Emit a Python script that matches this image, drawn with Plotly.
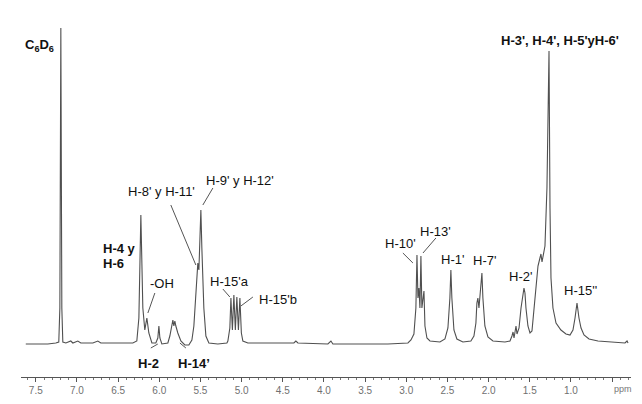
import plotly.graph_objects as go

# espectro 1H RMN (C6D6)
ppm = [7.622, 7.354, 7.257, 7.221, 7.208, 7.196, 7.184, 7.172, 7.135, 7.075,
       7.050, 6.990, 6.953, 6.807, 6.747, 6.710, 6.504, 6.321, 6.273, 6.248,
       6.224, 6.200, 6.176, 6.151, 6.127, 6.090, 6.042, 6.018, 6.005, 5.993,
       5.969, 5.896, 5.872, 5.847, 5.835, 5.823, 5.811, 5.799, 5.775, 5.738,
       5.690, 5.641, 5.604, 5.580, 5.556, 5.532, 5.519, 5.507, 5.495, 5.483,
       5.459, 5.434, 5.398, 5.289, 5.179, 5.167, 5.143, 5.130, 5.112, 5.094,
       5.076, 5.058, 5.039, 5.021, 5.003, 4.985, 4.924, 4.681, 4.365, 4.341,
       4.316, 3.952, 3.915, 3.891, 3.587, 3.223, 2.980, 2.943, 2.907, 2.883,
       2.870, 2.858, 2.846, 2.834, 2.822, 2.810, 2.785, 2.773, 2.749, 2.712,
       2.591, 2.530, 2.494, 2.470, 2.458, 2.446, 2.421, 2.385, 2.312, 2.215,
       2.178, 2.154, 2.142, 2.130, 2.117, 2.105, 2.081, 2.069, 2.045, 2.008,
       1.947, 1.801, 1.740, 1.716, 1.703, 1.691, 1.679, 1.667, 1.655, 1.630,
       1.606, 1.582, 1.570, 1.558, 1.546, 1.522, 1.497, 1.473, 1.437, 1.400,
       1.376, 1.364, 1.351, 1.339, 1.315, 1.291, 1.278, 1.266, 1.254, 1.242,
       1.218, 1.181, 1.121, 1.060, 1.011, 0.975, 0.950, 0.926, 0.902, 0.877,
       0.841, 0.780, 0.671, 0.549, 0.428, 0.343, 0.318, 0.306]
intensidade = [-1, -1, 0, 1, 35, 315, 35, 1, 0, 2,
               0, 2, 0, 0, 2, 0, 0, 0, 2, 25,
               128, 35, 13, 25, 10, 0, 0, 5, 17, 5,
               -1, 0, 7, 19, 23, 17, 22, 17, 10, 2,
               -2, -2, 3, 17, 45, 80, 73, 105, 133, 95,
               35, 7, 0, -1, 0, 2, 15, 45, 13, 48,
               13, 46, 13, 45, 10, 2, 0, 0, 0, 2,
               0, -1, 2, -1, -1, -1, 0, 3, 9, 35,
               88, 45, 55, 35, 87, 35, 52, 17, 5, 2,
               1, 4, 15, 45, 73, 45, 13, 4, 1, 2,
               7, 20, 40, 45, 35, 45, 70, 45, 17, 6,
               2, 1, 2, 7, 11, 5, 10, 17, 9, 15,
               35, 50, 55, 50, 35, 17, 10, 12, 45, 77,
               85, 89, 81, 86, 97, 155, 255, 292, 135, 65,
               35, 20, 13, 9, 8, 13, 25, 40, 25, 15,
               8, 4, 2, 1, 0, 0, 2, 0]

# rotulos: texto, ppm, intensidade, negrito
rotulos = [
    ("C<sub>6</sub>D<sub>6</sub>", 7.451, 298, True),
    ("H-4 y", 6.710, 95, True),
    ("H-6", 6.710, 80, True),
    ("-OH", 5.969, 60, False),
    ("H-8' y H-11'", 5.975, 152, False),
    ("H-9' y H-12'", 5.021, 163, False),
    ("H-15'a", 5.149, 62, False),
    ("H-15'b", 4.559, 44, False),
    ("H-2", 6.127, -20, True),
    ("H-14’", 5.574, -20, True),
    ("H-10'", 3.071, 100, False),
    ("H-13'", 2.646, 112, False),
    ("H-1'", 2.433, 84, False),
    ("H-7'", 2.050, 83, False),
    ("H-2'", 1.613, 67, False),
    ("H-15''", 0.884, 53, False),
    ("H-3', H-4', H-5'yH-6'", 1.133, 303, True),
]
# linhas indicadoras: (ppm0, int0, ppm1, int1)
setas = [
    (6.054, 50, 6.139, 30),
    (5.860, 138, 5.556, 78),
    (5.349, 155, 5.471, 138),
    (5.228, 54, 5.143, 46),
    (4.863, 46, 5.009, 37),
    (6.018, -1, 6.103, -5),
    (5.750, 0, 5.677, -5),
    (3.041, 90, 2.919, 80),
    (2.640, 105, 2.797, 90),
]
ticks_ppm = [7.5, 7.0, 6.5, 6.0, 5.5, 5.0, 4.5, 4.0, 3.5, 3.0, 2.5, 2.0, 1.5, 1.0, 0.5]
ticks_txt = ["7.5", "7.0", "6.5", "6.0", "5.5", "5.0", "4.5", "4.0", "3.5", "3.0",
             "2.5", "2.0", "1.5", "1.0", " "]

fig = go.Figure()
fig.add_trace(go.Scatter(x=ppm, y=intensidade, mode='lines',
                         line=dict(color='#505050', width=1.1), hoverinfo='skip'))

for texto, xp, yp, negrito in rotulos:
    anchor = 'left' if texto in ("H-4 y", "H-6") else 'center'
    fig.add_annotation(x=xp, y=yp, text=("<b>%s</b>" % texto) if negrito else texto,
                       showarrow=False, xanchor=anchor, yanchor='middle',
                       font=dict(family='Arial, Liberation Sans', size=13, color='#111111'))

for x0, y0, x1, y1 in setas:
    fig.add_shape(type='line', x0=x0, y0=y0, x1=x1, y1=y1, xref='x', yref='y',
                  line=dict(color='#555555', width=1))

# rotulo "ppm" no fim do eixo
fig.add_annotation(x=0.367, y=-0.032, xref='x', yref='paper', text='ppm', showarrow=False,
                   yanchor='middle',
                   font=dict(family='Arial, Liberation Sans', size=9, color='#777777'))

fig.update_layout(
    width=642, height=404,
    margin=dict(l=13, r=19, t=0, b=35),
    paper_bgcolor='white', plot_bgcolor='white',
    showlegend=False,
    xaxis=dict(range=[7.68, 0.27], showgrid=False, zeroline=False,
               showline=True, linecolor='#555555', linewidth=1,
               ticks='outside', ticklen=4, tickcolor='#555555',
               tickmode='array', tickvals=ticks_ppm, ticktext=ticks_txt,
               tickfont=dict(family='Arial, Liberation Sans', size=10, color='#707070'),
               minor=dict(ticks='outside', ticklen=2, tickcolor='#777777',
                          tickmode='linear', tick0=0, dtick=0.1)),
    yaxis=dict(range=[-34, 335], visible=False),
)
fig.write_html("out.html")
